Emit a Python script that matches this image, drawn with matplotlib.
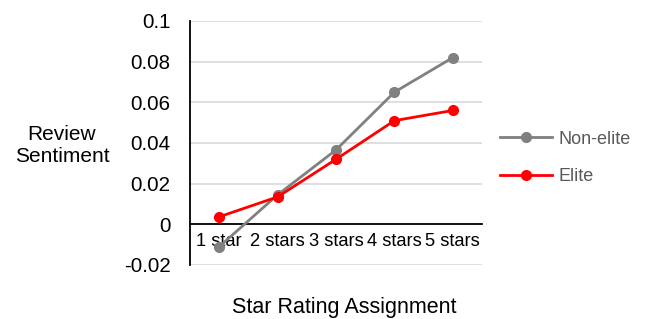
import matplotlib
matplotlib.use("Agg")
import matplotlib.pyplot as plt

plt.rcParams['font.family'] = ['Liberation Sans', 'DejaVu Sans']

categories = ["1 star", "2 stars", "3 stars", "4 stars", "5 stars"]
non_elite = [-0.011, 0.0145, 0.0366, 0.065, 0.082]
elite = [0.0037, 0.0135, 0.032, 0.051, 0.056]
yticks = [-0.02, 0, 0.02, 0.04, 0.06, 0.08, 0.1]
ylabels = ["-0.02", "0", "0.02", "0.04", "0.06", "0.08", "0.1"]

fig = plt.figure(figsize=(6.5, 3.19), dpi=100)
ax = fig.add_axes([190 / 650, 1 - 265 / 319, 292 / 650, 244 / 319])

x = list(range(len(categories)))
ax.plot(x, non_elite, color="#808080", lw=2, marker="o", ms=7, label="Non-elite", zorder=3)
ax.plot(x, elite, color="#ff0000", lw=2, marker="o", ms=7, label="Elite", zorder=3)

ax.set_xlim(-0.5, 4.5)
ax.set_ylim(-0.02, 0.1)
ax.set_yticks(yticks)
ax.set_yticklabels(ylabels)
ax.set_xticks(x)
ax.set_xticklabels(categories)
ax.tick_params(axis="both", length=0, colors="black")
ax.tick_params(axis="y", pad=14, labelsize=14.8)
ax.tick_params(axis="x", pad=6.5, labelsize=13.2)
ax.yaxis.grid(True, color="#d9d9d9", lw=1.2)
ax.set_axisbelow(True)

ax.spines['bottom'].set_position(('data', 0))
ax.spines['bottom'].set_color("black")
ax.spines['bottom'].set_linewidth(1.3)
ax.spines['left'].set_color("black")
ax.spines['left'].set_linewidth(1.3)
ax.spines['top'].set_visible(False)
ax.spines['right'].set_visible(False)

fig.text(62 / 650, 1 - 145.5 / 319, "Review\nSentiment", ha="center", va="center",
         fontsize=15, linespacing=1.2)
fig.text(344 / 650, 1 - 307 / 319, "Star Rating Assignment", ha="center", va="center", fontsize=15.5)

leg = ax.legend(loc="center left", bbox_to_anchor=(500 / 650, 1 - 158 / 319),
                bbox_transform=fig.transFigure, frameon=False, borderpad=0, borderaxespad=0,
                fontsize=13, handlelength=2.9, labelspacing=1.15, handletextpad=0.33)
for t in leg.get_texts():
    t.set_color("#595959")

fig.savefig("out.png", dpi=100)
